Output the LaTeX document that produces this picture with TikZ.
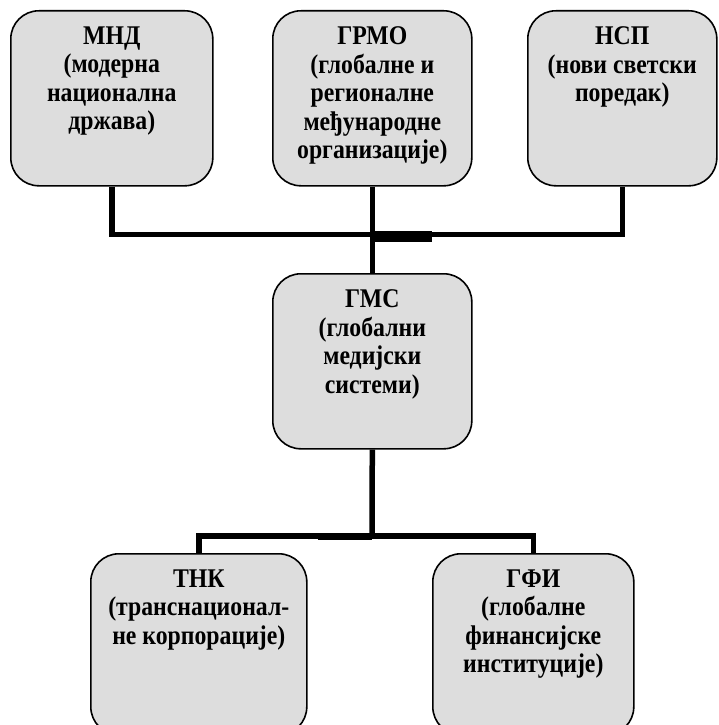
\documentclass[tikz,border=0pt]{standalone}
\usepackage{fontspec}
\setmainfont{Liberation Serif}
\newfontfamily\boxfont{Liberation Serif}[FakeStretch=0.88]
\definecolor{boxgray}{HTML}{DDDDDD}
\newcommand{\boxtext}[3]{\parbox[c][#1][t]{#2}{\centering\vspace*{16pt}#3}}
\begin{document}
\begin{tikzpicture}[x=1pt,y=-1pt,
  box/.style={draw=black, line width=1.6pt, fill=boxgray, rounded corners=28pt, inner sep=0pt, anchor=north west,
    font=\boxfont\fontsize{27}{28.5}\selectfont\bfseries},
  conn/.style={line width=5.5pt, draw=black}]
\useasboundingbox (0,0) rectangle (719,725);
\clip (0,0) rectangle (719,725);
\fill[white] (0,0) rectangle (719,725);
\node[box] (mnd) at (10,10) {\boxtext{175pt}{202pt}{МНД\\(модерна\\национална\\држава)}};
\node[box] (grmo) at (272,10) {\boxtext{175pt}{199pt}{ГРМО\\(глобалне и\\регионалне\\међународне\\организације)}};
\node[box] (nsp) at (527,10) {\boxtext{175pt}{189pt}{НСП\\(нови светски\\поредак)}};
\node[box] (gms) at (272,273) {\boxtext{175pt}{199pt}{ГМС\\(глобални\\медијски\\системи)}};
\node[box] (tnk) at (90,553) {\boxtext{181pt}{216pt}{ТНК\\(транснационал-\\не корпорације)}};
\node[box] (gfi) at (432,553) {\boxtext{181pt}{201pt}{ГФИ\\(глобалне\\финансијске\\институције)}};
\coordinate (j1) at (372,234.5);
\coordinate (j2) at (372,536);
\draw[conn] (mnd.south) -- (mnd.south |- j1) -- (nsp.south |- j1) -- (nsp.south);
\draw[conn] (grmo.south) -- (gms.north);
\fill[black] (375,231) rectangle (432,241.5);
\draw[conn] (gms.south) -- (j2);
\draw[conn] (tnk.north) -- (tnk.north |- j2) -- (gfi.north |- j2) -- (gfi.north);
\fill[black] (318,533) rectangle (372,539.5);
\end{tikzpicture}
\end{document}
